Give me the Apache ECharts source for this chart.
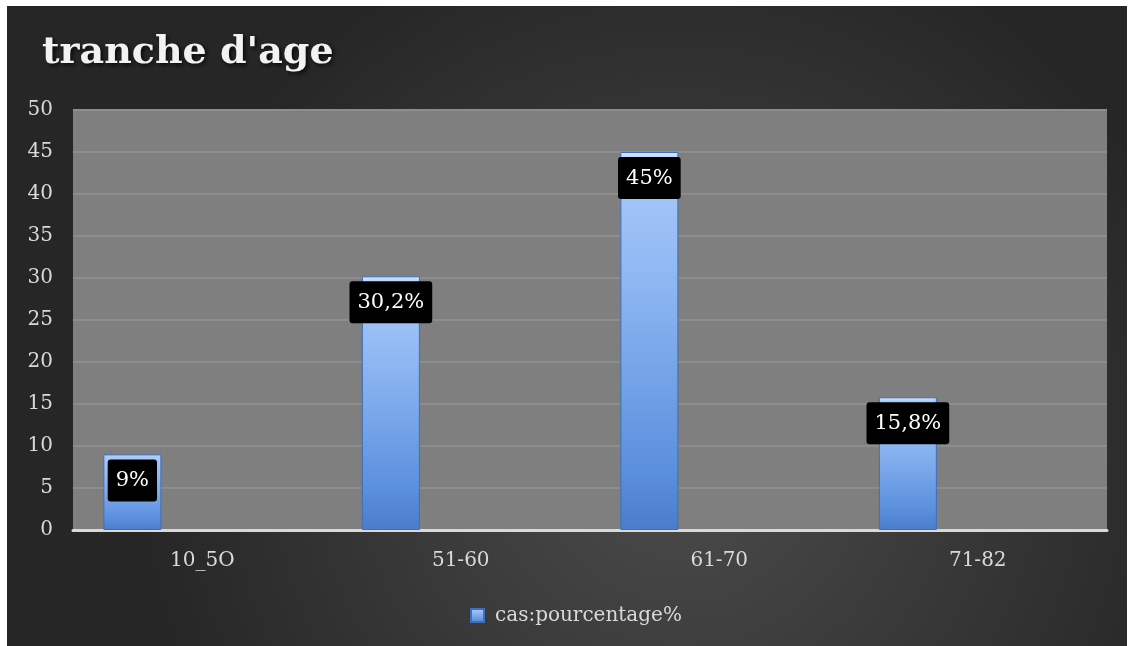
<!DOCTYPE html>
<html>
<head>
<meta charset="utf-8">
<script src="https://cdn.jsdelivr.net/npm/echarts@6/dist/echarts.min.js"></script>
<style>
html,body{margin:0;padding:0;background:#fff;width:1128px;height:646px;overflow:hidden;}
#chart{position:absolute;left:7px;top:6px;width:1120px;height:640px;}
</style>
</head>
<body>
<div id="chart"></div>
<script>
const titleText = "tranche d'age";
const categories = ['10_5O', '51-60', '61-70', '71-82'];
const seriesName = 'cas:pourcentage%';
const values = [9, 30.2, 45, 15.8];
const valueLabels = ['9%', '30,2%', '45%', '15,8%'];
const yTicks = {min: 0, max: 50, interval: 5};

const FONT = 'DejaVu Serif';
const chart = echarts.init(document.getElementById('chart'));
const barColor = new echarts.graphic.LinearGradient(0, 0, 0, 1, [
  {offset: 0, color: '#d6e6fd'},
  {offset: 0.03, color: '#a9cafa'},
  {offset: 0.35, color: '#8db6f2'},
  {offset: 0.85, color: '#5a8fdd'},
  {offset: 1, color: '#4a7ccb'}
]);
chart.setOption({
  textStyle: {fontFamily: FONT},
  backgroundColor: new echarts.graphic.RadialGradient(0.6, 0.7, 0.85, [
    {offset: 0, color: '#4c4c4c'},
    {offset: 1, color: '#262626'}
  ]),
  title: {
    text: titleText,
    left: 30, top: 23,
    textStyle: {
      fontFamily: FONT, fontSize: 38, fontWeight: 'bold', color: '#f2f2f2',
      textShadowColor: 'rgba(0,0,0,0.8)', textShadowBlur: 4, textShadowOffsetX: 2, textShadowOffsetY: 2
    }
  },
  legend: {
    data: [seriesName],
    left: 463, top: 602,
    itemWidth: 13, itemHeight: 13, icon: 'rect',
    formatter: () => '',
    padding: 0
  },
  graphic: [{
    type: 'text', left: 488, top: 600,
    style: {text: seriesName, fontFamily: FONT, fontSize: 20, fill: '#d9d9d9'}
  }],
  grid: {
    left: 66, right: 20, top: 104, bottom: 116,
    show: true, backgroundColor: '#7f7f7f', borderWidth: 0
  },
  xAxis: {
    type: 'category', data: categories,
    axisLine: {lineStyle: {color: '#d9d9d9', width: 3}},
    axisTick: {show: false},
    axisLabel: {fontFamily: FONT, fontSize: 20, color: '#d9d9d9', margin: 21}
  },
  yAxis: {
    type: 'value', min: yTicks.min, max: yTicks.max, interval: yTicks.interval,
    axisLine: {show: false}, axisTick: {show: false},
    axisLabel: {fontFamily: FONT, fontSize: 20, color: '#d9d9d9', margin: 20},
    splitLine: {lineStyle: {color: '#8d8d8d', width: 2}}
  },
  series: [
    {
      name: seriesName, type: 'bar', data: values,
      barWidth: 58, barGap: '141%',
      itemStyle: {color: barColor, borderColor: '#3f6fb8', borderWidth: 1},
      label: {
        show: true, position: 'insideTop', distance: 5,
        formatter: p => valueLabels[p.dataIndex],
        fontFamily: FONT, fontSize: 21, color: '#ffffff',
        backgroundColor: '#000000', borderRadius: 3, padding: [11, 8, 10, 8]
      }
    },
    {
      name: 'empty', type: 'bar', data: ['-', '-', '-', '-'],
      barWidth: 58, barGap: '141%', silent: true
    }
  ]
});
</script>
</body>
</html>
